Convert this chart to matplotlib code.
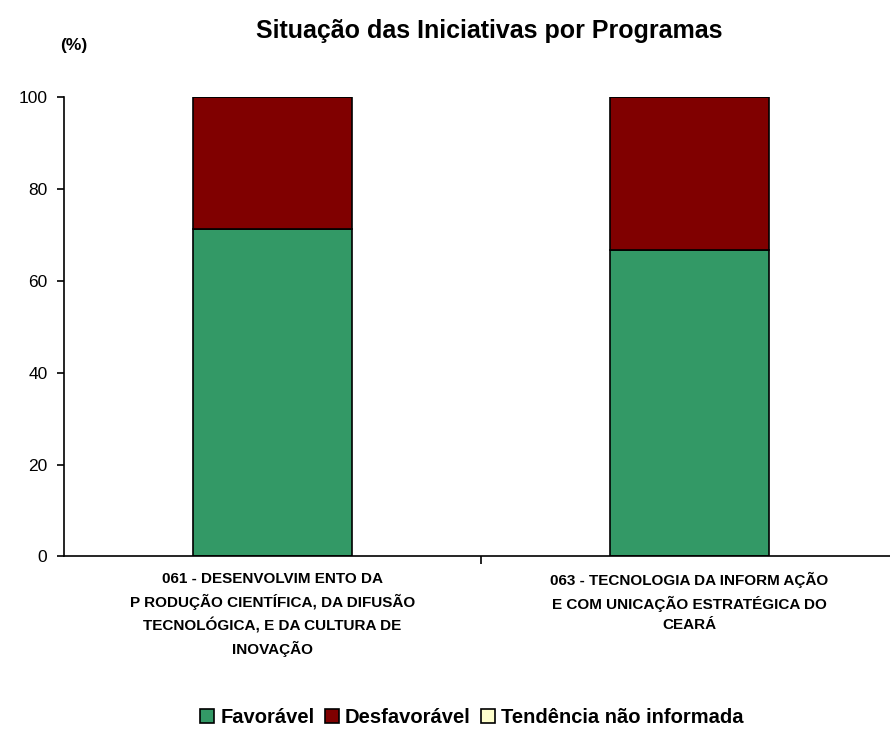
import numpy as np
import matplotlib.pyplot as plt

plt.rcParams['font.family'] = ['Liberation Sans', 'DejaVu Sans']

programas = ['061 - DESENVOLVIM ENTO DA\nP RODUÇÃO CIENTÍFICA, DA DIFUSÃO\nTECNOLÓGICA, E DA CULTURA DE\nINOVAÇÃO',
             '063 - TECNOLOGIA DA INFORM AÇÃO\nE COM UNICAÇÃO ESTRATÉGICA DO\nCEARÁ']
favoravel = [71.4, 66.7]
desfavoravel = [28.6, 33.3]
nao_informada = [0.0, 0.0]

cores = ['#339966', '#800000', '#FFFFCC']

fig = plt.figure(figsize=(8.9, 7.33), dpi=100)
ax = fig.add_axes([0.072, 0.241, 0.937, 0.626])

x = np.arange(len(programas))
w = 0.38
b1 = ax.bar(x, favoravel, w, color=cores[0], edgecolor='black', linewidth=1.2, label='Favorável')
b2 = ax.bar(x, desfavoravel, w, bottom=favoravel, color=cores[1], edgecolor='black', linewidth=1.2, label='Desfavorável')
base = np.array(favoravel) + np.array(desfavoravel)
b3 = ax.bar(x, nao_informada, w, bottom=base, color=cores[2], edgecolor='black', linewidth=1.2,
            label='Tendência não informada')

ax.set_xlim(-0.5, 1.5)
ax.set_ylim(0, 100)
ax.set_yticks([0, 20, 40, 60, 80, 100])
ax.tick_params(axis='y', labelsize=12.5, length=5, width=1.2, direction='out', pad=7)
for s in ['top', 'right']:
    ax.spines[s].set_visible(False)
ax.spines['left'].set_linewidth(1.2)
ax.spines['bottom'].set_linewidth(1.2)

ax.set_xticks(x)
ax.set_xticklabels(programas, fontsize=11, fontweight='bold', linespacing=1.6)
ax.tick_params(axis='x', length=0, pad=11)
ax.set_xticks([0.5], minor=True)
ax.tick_params(axis='x', which='minor', length=6, width=1.2)

fig.text(0.55, 0.958, 'Situação das Iniciativas por Programas', ha='center', va='center',
         fontsize=18, fontweight='bold')
fig.text(0.083, 0.938, '(%)', ha='center', va='center', fontsize=12.5, fontweight='bold')

fig.legend(handles=[b1, b2, b3], loc='center', bbox_to_anchor=(0.53, 0.021), ncol=3,
           frameon=False, prop={'weight': 'bold', 'size': 14.5},
           handlelength=0.7, handleheight=0.7, handletextpad=0.3, columnspacing=0.5)

fig.savefig('out.png', dpi=100)
